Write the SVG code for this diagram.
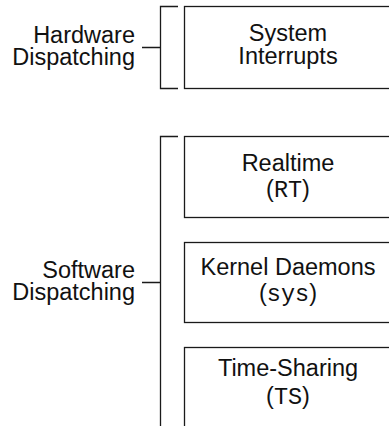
<svg xmlns="http://www.w3.org/2000/svg" width="389" height="426" viewBox="0 0 389 426">
<style>
.ln{fill:none;stroke:#1a1a1a;stroke-width:1.3}
.box{fill:#fff;stroke:#1a1a1a;stroke-width:1.3}
.t{font-family:"Liberation Sans",Arial,sans-serif;font-size:23.5px;fill:#111}
.c{text-anchor:middle}
.r{text-anchor:end}
.m{font-family:"Liberation Mono","Courier New",monospace}
</style>
<rect width="389" height="426" fill="#fff"/>
<g id="connectors">
<path class="ln" d="M178,6.5H160.5V88.5H178M142,47.5H160.5"/>
<path class="ln" d="M178,136.5H160.5V430M142,282.5H160.5"/>
</g>
<g id="hardware-label">
<text class="t r" x="135" y="42.5">Hardware</text>
<text class="t r" x="135" y="65">Dispatching</text>
</g>
<g id="software-label">
<text class="t r" x="135" y="277.5">Software</text>
<text class="t r" x="135" y="300">Dispatching</text>
</g>
<g id="system-interrupts">
<rect class="box" x="184.5" y="6.5" width="210" height="82"/>
<text class="t c" x="288" y="41">System</text>
<text class="t c" x="288" y="64">Interrupts</text>
</g>
<g id="realtime">
<rect class="box" x="184.5" y="136.5" width="210" height="81"/>
<text class="t c" x="288" y="170.5">Realtime</text>
<text class="t c" x="288" y="197">(<tspan class="m">RT</tspan>)</text>
</g>
<g id="kernel-daemons">
<rect class="box" x="184.5" y="242.5" width="210" height="80"/>
<text class="t c" x="288" y="275">Kernel Daemons</text>
<text class="t c" x="288" y="300.5">(<tspan class="m">sys</tspan>)</text>
</g>
<g id="time-sharing">
<rect class="box" x="184.5" y="347.5" width="210" height="90"/>
<text class="t c" x="288" y="376">Time-Sharing</text>
<text class="t c" x="288" y="404">(<tspan class="m">TS</tspan>)</text>
</g>
</svg>
